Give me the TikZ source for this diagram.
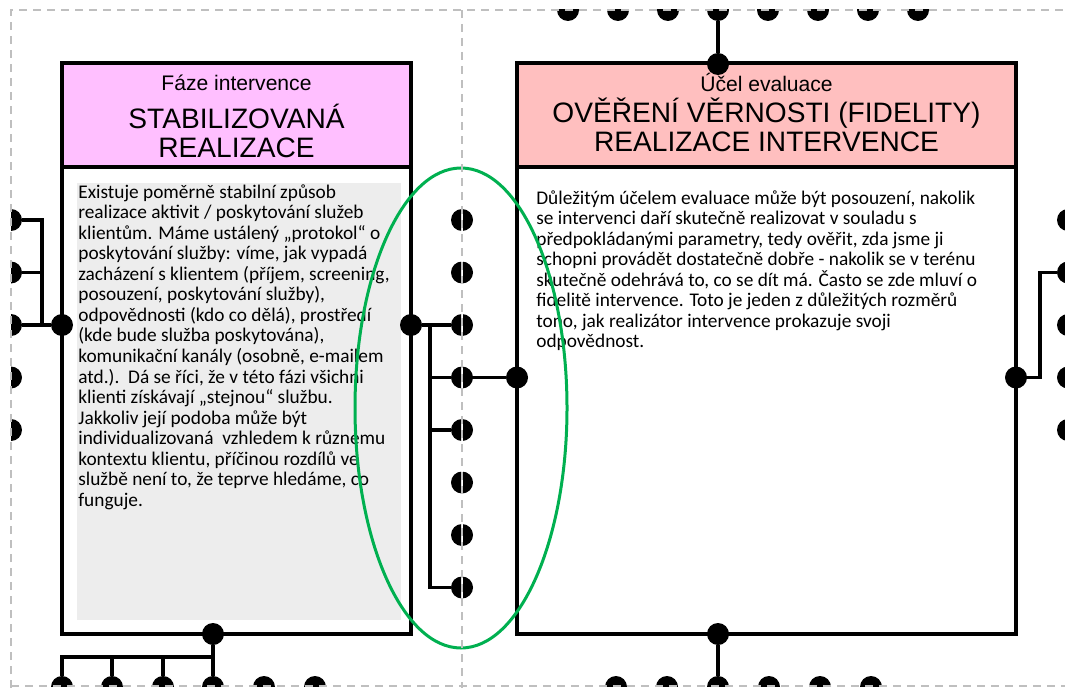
\documentclass[tikz,border=0pt]{standalone}
\usepackage{fontspec}
\setmainfont{Carlito}
\newfontfamily\headfont{Liberation Sans}
\usepackage{tikz}
\usetikzlibrary{shapes.geometric}

\begin{document}
\begin{tikzpicture}[x=0.2mm, y=-0.2mm]

    \tikzstyle{pin} = [circle, fill=black, inner sep=0, minimum size=4.4mm];
    \tikzstyle{wire} = [line width=0.7mm, black];
    \tikzstyle{frame} = [dash pattern=on 1.6mm off 1.2mm, line width=0.4mm, black!25];
    \tikzstyle{head box} = [rectangle, draw, line width=0.9mm, minimum height=20.8mm];
    \tikzstyle{body box} = [rectangle, draw, line width=0.9mm, minimum height=93.4mm];
    \tikzstyle{small title} = [inner sep=0, font=\headfont\fontsize{12}{14}\selectfont];
    \tikzstyle{big title} = [inner sep=0, align=center, font=\headfont\fontsize{16}{16.5}\selectfont];
    \tikzstyle{body text} = [inner sep=0, align=left, anchor=north west, font=\fontsize{11}{11.7}\selectfont];

    \useasboundingbox (0,0) rectangle (1065,688);

    % Panel 1
    \begin{scope}
        \clip (11,10) rectangle (461,686);

        \node[body box, minimum width=69.8mm] (lbody) at (236.5,400.5) {};
        \node[head box, minimum width=69.8mm, fill={rgb,255:red,255;green,191;blue,255}] (lhead) at (236.5,115) {};
        \node[small title] (lphase) at (236.5,83) {Fáze intervence};
        \node[big title] (ltitle) at (236.5,131) {STABILIZOVANÁ\\REALIZACE};

        \node[fill=black!7, inner sep=0, minimum width=64.8mm, minimum height=87.4mm] (lbg) at (239,401.5) {};
        \node[body text] (ltext) at (78,184) {Existuje poměrně stabilní způsob\\
            realizace aktivit / poskytování služeb\\
            klientům. Máme ustálený „protokol“ o\\
            poskytování služby: víme, jak vypadá\\
            zacházení s klientem (příjem, screening,\\
            posouzení, poskytování služby),\\
            odpovědnosti (kdo co dělá), prostředí\\
            (kde bude služba poskytována),\\
            komunikační kanály (osobně, e-mailem\\
            atd.).\ \ Dá se říci, že v této fázi všichni\\
            klienti získávají „stejnou“ službu.\\
            Jakkoliv její podoba může být\\
            individualizovaná\ \ vzhledem k různému\\
            kontextu klientu, příčinou rozdílů ve\\
            službě není to, že teprve hledáme, co\\
            funguje.};

        % dots on the box
        \node[pin] (lleft) at (62,325) {};
        \node[pin] (lright) at (411,325) {};
        \node[pin] (lbottom) at (213,634) {};

        % dots on the left edge
        \node[pin] (le1) at (11,220) {};
        \node[pin] (le2) at (11,272.5) {};
        \node[pin] (le3) at (11,325) {};
        \node[pin] (le4) at (11,377.5) {};
        \node[pin] (le5) at (11,430) {};

        % dots on the middle edge
        \node[pin] (lm1) at (462,220) {};
        \node[pin] (lm2) at (462,272.5) {};
        \node[pin] (lm3) at (462,325) {};
        \node[pin] (lm4) at (462,377.5) {};
        \node[pin] (lm5) at (462,430) {};
        \node[pin] (lm6) at (462,482.5) {};
        \node[pin] (lm7) at (462,535) {};
        \node[pin] (lm8) at (462,587.5) {};

        % dots on the bottom edge
        \node[pin] (lb1) at (62,687) {};
        \node[pin] (lb2) at (112,687) {};
        \node[pin] (lb3) at (163,687) {};
        \node[pin] (lb4) at (213,687) {};
        \node[pin] (lb5) at (264,687) {};
        \node[pin] (lb6) at (315,687) {};

        \coordinate (lbar) at (42,0);
        \coordinate (mbar) at (430,0);
        \coordinate (lbus) at (0,657);

        \draw[wire] (lleft) -- (le3);
        \draw[wire] (lleft) -- (lleft -| lbar) |- (le2);
        \draw[wire] (lleft) -- (lleft -| lbar) |- (le1);

        \draw[wire] (lright) -- (lm3);
        \draw[wire] (lright) -- (lright -| mbar) |- (lm4);
        \draw[wire] (lright) -- (lright -| mbar) |- (lm5);
        \draw[wire] (lright) -- (lright -| mbar) |- (lm8);

        \draw[wire] (lbottom) -- (lb4);
        \draw[wire] (lbottom) -- (lbottom |- lbus) -| (lb3);
        \draw[wire] (lbottom) -- (lbottom |- lbus) -| (lb2);
        \draw[wire] (lbottom) -- (lbottom |- lbus) -| (lb1);
    \end{scope}

    % Panel 2
    \begin{scope}
        \clip (463,10) rectangle (1065,686);

        \node[body box, minimum width=99.8mm] (rbody) at (766.5,400.5) {};
        \node[head box, minimum width=99.8mm, fill={rgb,255:red,255;green,191;blue,191}] (rhead) at (766.5,115) {};
        \node[small title] (rpurpose) at (766.5,82) {Účel evaluace};
        \node[big title] (rtitle) at (766.5,125) {OVĚŘENÍ VĚRNOSTI (FIDELITY)\\REALIZACE INTERVENCE};

        \node[body text] (rtext) at (536,190) {Důležitým účelem evaluace může být posouzení, nakolik\\
            se intervenci daří skutečně realizovat v souladu s\\
            předpokládanými parametry, tedy ověřit, zda jsme ji\\
            schopni provádět dostatečně dobře - nakolik se v terénu\\
            skutečně odehrává to, co se dít má. Často se zde mluví o\\
            fidelitě intervence. Toto je jeden z důležitých rozměrů\\
            tono, jak realizátor intervence prokazuje svoji\\
            odpovědnost.};

        % dots on the box
        \node[pin] (rtop) at (718,64) {};
        \node[pin] (rleft) at (517,377.5) {};
        \node[pin] (rright) at (1016,377.5) {};
        \node[pin] (rbottom) at (718,634) {};

        % dots on the top edge
        \node[pin] (rt1) at (568,10) {};
        \node[pin] (rt2) at (618,10) {};
        \node[pin] (rt3) at (668,10) {};
        \node[pin] (rt4) at (718,10) {};
        \node[pin] (rt5) at (768,10) {};
        \node[pin] (rt6) at (818,10) {};
        \node[pin] (rt7) at (868,10) {};
        \node[pin] (rt8) at (918,10) {};

        % dots on the middle edge
        \node[pin] (rm1) at (462,220) {};
        \node[pin] (rm2) at (462,272.5) {};
        \node[pin] (rm3) at (462,325) {};
        \node[pin] (rm4) at (462,377.5) {};
        \node[pin] (rm5) at (462,430) {};
        \node[pin] (rm6) at (462,482.5) {};
        \node[pin] (rm7) at (462,535) {};
        \node[pin] (rm8) at (462,587.5) {};

        % dots on the right edge
        \node[pin] (re1) at (1068,220) {};
        \node[pin] (re2) at (1068,272.5) {};
        \node[pin] (re3) at (1068,325) {};
        \node[pin] (re4) at (1068,377.5) {};
        \node[pin] (re5) at (1068,430) {};

        % dots on the bottom edge
        \node[pin] (rb1) at (616,687) {};
        \node[pin] (rb2) at (667,687) {};
        \node[pin] (rb3) at (718,687) {};
        \node[pin] (rb4) at (769,687) {};
        \node[pin] (rb5) at (820,687) {};
        \node[pin] (rb6) at (871,687) {};

        \coordinate (rbar) at (1040,0);

        \draw[wire] (rtop) -- (rt4);
        \draw[wire] (rleft) -- (rm4);
        \draw[wire] (rright) -- (rright -| rbar) |- (re2);
        \draw[wire] (rbottom) -- (rb3);
    \end{scope}

    % highlight
    \node[ellipse, draw={rgb,255:red,0;green,176;blue,80}, line width=0.6mm,
          minimum width=42.4mm, minimum height=96mm] (focus) at (461,408) {};

    % slide borders
    \draw[frame] (11,688) -- (11,10) -- (1065,10);
    \draw[frame] (462,10) -- (462,688);
    \draw[frame] (11,686) -- (1065,686);
\end{tikzpicture}
\end{document}
